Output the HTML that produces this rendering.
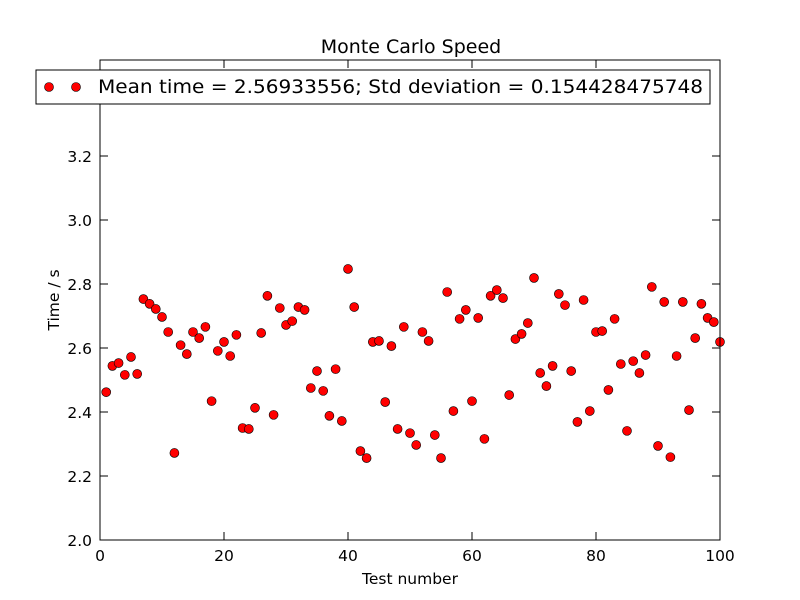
<!DOCTYPE html>
<html><head><meta charset="utf-8"><style>
html,body{margin:0;padding:0;background:#fff;}
svg{display:block;font-family:"DejaVu Sans","Liberation Sans",sans-serif;}
</style></head><body>
<svg id="chart" width="800" height="600" viewBox="0 0 800 600">
<rect x="0" y="0" width="800" height="600" fill="#fff"/>
<text x="411" y="53" text-anchor="middle" font-size="19">Monte Carlo Speed</text>
<g id="ticks"></g>
<g id="points"></g>
<rect x="100" y="60" width="620" height="480" fill="none" stroke="#000" stroke-width="1"/>
<text x="410" y="584" text-anchor="middle" font-size="15.5">Test number</text>
<text transform="translate(59,300) rotate(-90)" text-anchor="middle" font-size="15.5">Time / s</text>
<g>
<rect x="36" y="70" width="674" height="34" fill="#fff" stroke="#000" stroke-width="1"/>
<circle cx="49" cy="87" r="4.5" fill="#ff0000" stroke="#000" stroke-width="0.6"/>
<circle cx="76" cy="87" r="4.5" fill="#ff0000" stroke="#000" stroke-width="0.6"/>
<text x="98" y="93" font-size="19" textLength="605" lengthAdjust="spacingAndGlyphs">Mean time = 2.56933556; Std deviation = 0.154428475748</text>
</g>
</svg>
<script>
const times = [2.462,2.544,2.553,2.516,2.572,2.519,2.753,2.738,2.722,2.697,
2.650,2.272,2.609,2.581,2.650,2.631,2.666,2.434,2.591,2.619,
2.575,2.641,2.350,2.347,2.413,2.647,2.763,2.391,2.725,2.672,
2.684,2.728,2.719,2.475,2.528,2.466,2.388,2.534,2.372,2.847,
2.728,2.278,2.256,2.619,2.622,2.431,2.606,2.347,2.666,2.334,
2.297,2.650,2.622,2.328,2.256,2.775,2.403,2.691,2.719,2.434,
2.694,2.316,2.763,2.781,2.756,2.453,2.628,2.644,2.678,2.819,
2.522,2.481,2.544,2.769,2.734,2.528,2.369,2.750,2.403,2.650,
2.653,2.469,2.691,2.550,2.341,2.559,2.522,2.578,2.791,2.294,
2.744,2.259,2.575,2.744,2.406,2.631,2.738,2.694,2.681,2.619];
const xTicks = [0,20,40,60,80,100];
const yTicks = [2.0,2.2,2.4,2.6,2.8,3.0,3.2];
const xDomain = [0,100];
const yDomain = [2.0,3.5];
const L=100,R=720,T=60,B=540;
function sx(v){return L+(v-xDomain[0])/(xDomain[1]-xDomain[0])*(R-L);}
function sy(v){return B-(v-yDomain[0])/(yDomain[1]-yDomain[0])*(B-T);}
const NS="http://www.w3.org/2000/svg";
const tg=document.getElementById('ticks');
function mk(tag,attrs,parent){const e=document.createElementNS(NS,tag);for(const k in attrs)e.setAttribute(k,attrs[k]);parent.appendChild(e);return e;}
xTicks.forEach(v=>{
  const x=sx(v);
  const t1=mk('line',{x1:x,x2:x,y1:B,y2:B-8,stroke:'#000'},tg);
  
  
  const t2=mk('line',{x1:x,x2:x,y1:T,y2:T+8,stroke:'#000'},tg);
  
  
  const lb=mk('text',{x:x,y:B+21,'text-anchor':'middle','font-size':'15.5'},tg);
  lb.textContent=String(v);
  
  
});
yTicks.forEach(v=>{
  const y=sy(v);
  const t1=mk('line',{x1:L,x2:L+8,y1:y,y2:y,stroke:'#000'},tg);
  
  
  const t2=mk('line',{x1:R,x2:R-8,y1:y,y2:y,stroke:'#000'},tg);
  
  
  const lb=mk('text',{x:L-8,y:y+6,'text-anchor':'end','font-size':'15.5'},tg);
  lb.textContent=v.toFixed(1);
  
  
});
const pg=document.getElementById('points');
times.forEach((v,i)=>{
  const c=mk('circle',{cx:sx(i+1),cy:sy(v),r:4.5,fill:'#ff0000',stroke:'#000','stroke-width':0.6},pg);
  
  
});
</script>
</body></html>
